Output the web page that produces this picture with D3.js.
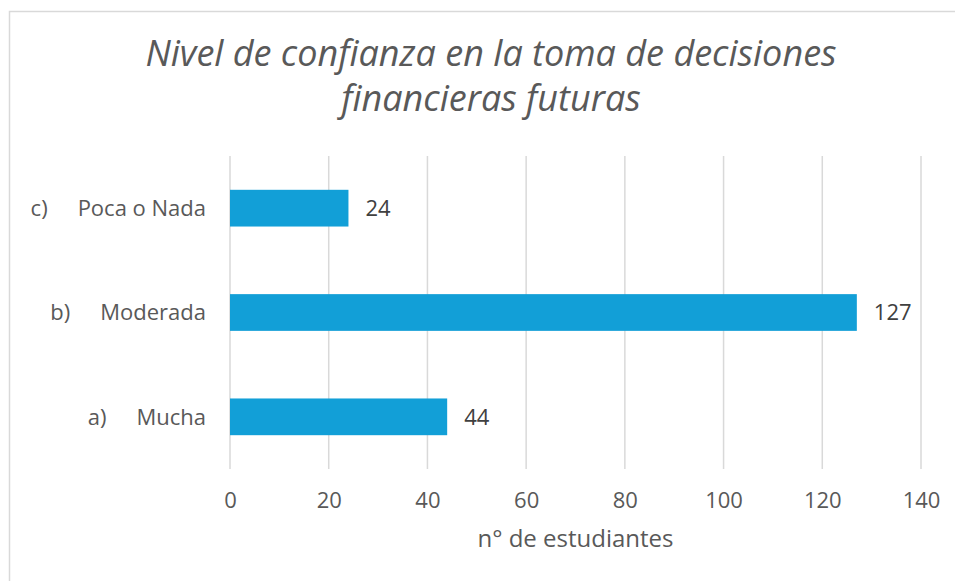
<!DOCTYPE html>
<html>
<head>
<meta charset="utf-8">
<script src="https://cdn.jsdelivr.net/npm/d3@7"></script>
<style>
  body { margin: 0; background: #fff; }
  svg text { font-family: "Open Sans", "Liberation Sans", sans-serif; }
</style>
</head>
<body>
<div id="chart"></div>
<script>
// datos del grafico
const letras = ["c)", "b)", "a)"];
const categorias = ["Poca o Nada", "Moderada", "Mucha"];
const valores = [24, 127, 44];
const ticks = [0, 20, 40, 60, 80, 100, 120, 140];
const titulo = ["Nivel de confianza en la toma de decisiones", "financieras futuras"];
const tituloEje = "n° de estudiantes";

const W = 955, H = 581;
const plot = {left: 230, right: 921, top: 156, bottom: 469};

const svg = d3.select("#chart").append("svg")
    .attr("width", W)
    .attr("height", H);

// marco del grafico
svg.append("rect")
    .attr("x", 9.5).attr("y", 11.5)
    .attr("width", W).attr("height", H)
    .attr("fill", "#fff")
    .attr("stroke", "#d9d9d9")
    .attr("stroke-width", 1.5);

const x = d3.scaleLinear().domain([0, 140]).range([plot.left, plot.right]);
const y = d3.scaleBand().domain(categorias).range([plot.top, plot.bottom]).paddingInner(0.648).paddingOuter(0.324);

// lineas de cuadricula
svg.selectAll(".grid")
    .data(ticks)
    .enter()
    .append("line")
    .attr("x1", d => x(d)).attr("x2", d => x(d))
    .attr("y1", plot.top).attr("y2", plot.bottom)
    .attr("stroke", "#d9d9d9")
    .attr("stroke-width", 1.5);

// eje x (solo etiquetas)
const ejeX = svg.append("g")
    .attr("transform", "translate(0," + plot.bottom + ")")
    .call(d3.axisBottom(x).tickValues(ticks).tickSize(0).tickPadding(23));
ejeX.select(".domain").remove();
ejeX.selectAll("text")
    .attr("fill", "#595959")
    .style("font-size", "22px");

// barras
svg.selectAll(".bar")
    .data(valores)
    .enter()
    .append("rect")
    .attr("class", "bar")
    .attr("x", x(0))
    .attr("y", (d, i) => y(categorias[i]))
    .attr("width", d => x(d) - x(0))
    .attr("height", y.bandwidth())
    .attr("fill", "#129fd7");

// etiquetas de valores
svg.selectAll(".valor")
    .data(valores)
    .enter()
    .append("text")
    .attr("x", d => x(d) + 17)
    .attr("y", (d, i) => y(categorias[i]) + y.bandwidth() / 2)
    .attr("dy", "0.36em")
    .attr("fill", "#404040")
    .style("font-size", "22px")
    .text(d => d);

// etiquetas de categorias
const cat = svg.selectAll(".cat")
    .data(categorias)
    .enter()
    .append("text")
    .attr("x", 206)
    .attr("y", d => y(d) + y.bandwidth() / 2)
    .attr("dy", "0.36em")
    .attr("text-anchor", "end")
    .attr("fill", "#595959")
    .style("font-size", "22px");
cat.append("tspan").text((d, i) => letras[i]);
cat.append("tspan").attr("dx", 30).text(d => d);

// titulo (dos lineas)
svg.selectAll(".titulo")
    .data(titulo)
    .enter()
    .append("text")
    .attr("class", "titulo")
    .attr("x", 491)
    .attr("y", (d, i) => 66 + i * 45)
    .attr("text-anchor", "middle")
    .attr("fill", "#595959")
    .style("font-size", "36px")
    .style("font-style", "italic")
    .text(d => d);

// titulo del eje
svg.append("text")
    .attr("x", (plot.left + plot.right) / 2)
    .attr("y", 547)
    .attr("text-anchor", "middle")
    .attr("fill", "#595959")
    .style("font-size", "24px")
    .text(tituloEje);
</script>
</body>
</html>
